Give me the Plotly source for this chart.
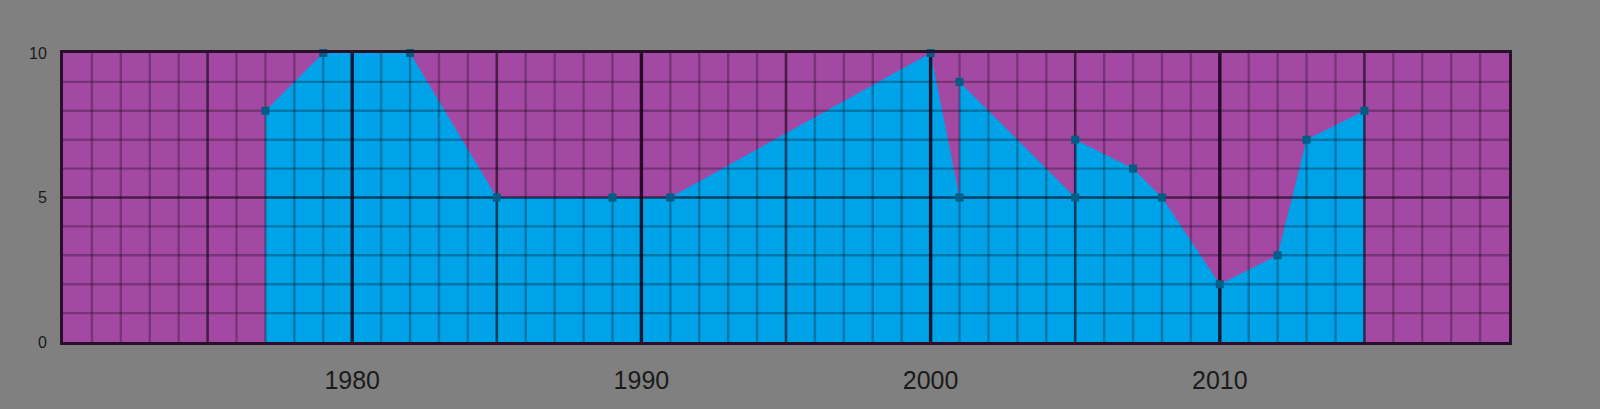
import plotly.graph_objects as go

# data
years = [1977, 1979, 1982, 1985, 1989, 1991, 2000, 2001, 2001,
         2005, 2005, 2007, 2008, 2010, 2012, 2013, 2015]
values = [8, 10, 10, 5, 5, 5, 10, 5, 9, 5, 7, 6, 5, 2, 3, 7, 8]

x_ticks = [1980, 1990, 2000, 2010]
y_ticks = [0, 5, 10]

X_MIN, X_MAX = 1970, 2020
Y_MIN, Y_MAX = 0, 10


def grid_segments(xs, ys):
    """vertical lines at xs and horizontal lines at ys, joined with None gaps"""
    gx, gy = [], []
    for v in xs:
        gx += [v, v, None]
        gy += [Y_MIN, Y_MAX, None]
    for v in ys:
        gx += [X_MIN, X_MAX, None]
        gy += [v, v, None]
    return gx, gy


fig = go.Figure()

# filled area (drawn first so the grid sits on top of it)
fig.add_trace(go.Scatter(
    x=years, y=values, mode="lines", fill="tozeroy",
    fillcolor="#00a2e8", line=dict(width=0, color="#00a2e8"),
    hoverinfo="skip", showlegend=False,
))

# grid drawn as traces so it shows over the fill
minor_x = [y for y in range(X_MIN + 1, X_MAX) if y % 5]
minor_y = [v for v in range(Y_MIN + 1, Y_MAX) if v % 5]
mid_x = [y for y in range(X_MIN + 5, X_MAX, 10)]
mid_y = [5]

for xs, ys, col, w in [
    (minor_x, minor_y, "rgba(0,0,0,0.27)", 2.4),
    (mid_x, mid_y, "rgba(10,0,10,0.6)", 2.6),
    (x_ticks, [], "rgba(20,0,20,0.85)", 3.4),
]:
    gx, gy = grid_segments(xs, ys)
    fig.add_trace(go.Scatter(
        x=gx, y=gy, mode="lines", line=dict(color=col, width=w),
        hoverinfo="skip", showlegend=False,
    ))

# square markers on top
fig.add_trace(go.Scatter(
    x=years, y=values, mode="markers", cliponaxis=False,
    marker=dict(symbol="square", size=8, color="#005d86"),
    showlegend=False,
))

fig.update_layout(
    width=1600, height=409,
    paper_bgcolor="#808080", plot_bgcolor="#a349a4",
    margin=dict(l=63, r=91, t=53, b=67),
    font=dict(family="Liberation Sans", color="#1a1a1a"),
)
fig.update_xaxes(
    range=[X_MIN, X_MAX], showgrid=False, zeroline=False,
    tickvals=x_ticks, ticks="", tickfont=dict(size=25),
    ticklabelstandoff=14,
    showline=True, mirror=True, linecolor="#2a0f2a", linewidth=3,
    layer="above traces",
)
fig.update_yaxes(
    range=[Y_MIN, Y_MAX], showgrid=False, zeroline=False,
    tickvals=y_ticks, ticks="", tickfont=dict(size=16),
    ticklabelstandoff=10,
    showline=True, mirror=True, linecolor="#2a0f2a", linewidth=3,
    layer="above traces",
)

fig.write_html("out.html", config={"displayModeBar": False})

# drop the default page margin so the figure fills the window
with open("out.html", "r") as f:
    content = f.read()
content = content.replace("<body>", '<body style="margin:0;background:#808080">', 1)
with open("out.html", "w") as f:
    f.write(content)
